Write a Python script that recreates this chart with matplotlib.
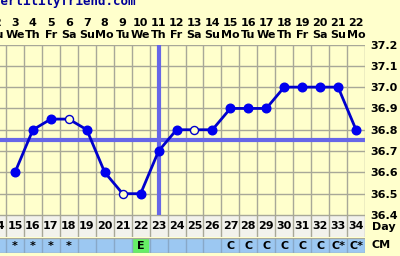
import matplotlib
matplotlib.use("Agg")
import matplotlib.pyplot as plt
import matplotlib.transforms as mtransforms

# ---- data ----
cycle_days = [14, 15, 16, 17, 18, 19, 20, 21, 22, 23, 24, 25, 26, 27, 28, 29, 30, 31, 32, 33, 34]
dates = [2, 3, 4, 5, 6, 7, 8, 9, 10, 11, 12, 13, 14, 15, 16, 17, 18, 19, 20, 21, 22]
weekdays = ["Tu", "We", "Th", "Fr", "Sa", "Su", "Mo", "Tu", "We", "Th", "Fr", "Sa", "Su",
            "Mo", "Tu", "We", "Th", "Fr", "Sa", "Su", "Mo"]
temp_days = [15, 16, 17, 18, 19, 20, 21, 22, 23, 24, 25, 26, 27, 28, 29, 30, 31, 32, 33, 34]
temps = [36.6, 36.8, 36.85, 36.85, 36.8, 36.6, 36.5, 36.5, 36.7, 36.8, 36.8, 36.8,
         36.9, 36.9, 36.9, 37.0, 37.0, 37.0, 37.0, 36.8]
open_days = [18, 21, 25]
cm_labels = ["", "*", "*", "*", "*", "", "", "", "E", "", "", "", "", "C", "C", "C", "C",
             "C", "C", "C*", "C*"]
coverline = 36.75
ovulation_day = 23
y_ticks = [36.4, 36.5, 36.6, 36.7, 36.8, 36.9, 37.0, 37.1, 37.2]

# ---- style ----
BG = "#FFFFCC"
GRID = "#A8A898"
LINE = "#0000CC"
DOT = "#0000EE"
COVER = "#6666E8"
FONT = dict(family="DejaVu Sans", weight="bold", size=8)

W, H = 400, 256
fig = plt.figure(figsize=(W / 100, H / 100), dpi=100, facecolor=BG)

def frac(x0, y0, x1, y1):
    return [x0 / W, 1 - y1 / H, (x1 - x0) / W, (y1 - y0) / H]

x_left = 14.5 - 6 / 17.95
x_right = 34.5

# main plot
ax = fig.add_axes(frac(0, 44.5, 365, 215))
ax.set_facecolor(BG)
ax.set_xlim(x_left, x_right)
ax.set_ylim(36.4, 37.2)
for d in cycle_days:
    ax.axvline(d + 0.5, color=GRID, lw=1, zorder=1)
for t in y_ticks:
    ax.axhline(t, color=GRID, lw=1, zorder=1)
for s in ax.spines.values():
    s.set_visible(False)
ax.set_xticks([])
ax.yaxis.tick_right()
ax.set_yticks(y_ticks)
ax.set_yticklabels([f"{t:.1f}" for t in y_ticks], **FONT)
ax.tick_params(axis="y", length=0, pad=4)

ax.axhline(coverline, color=COVER, lw=3, zorder=2)
ax.axvline(ovulation_day, color=COVER, lw=3, zorder=2)

ax.plot(temp_days, temps, color=LINE, lw=2, zorder=3)
filled_x = [d for d in temp_days if d not in open_days]
filled_y = [t for d, t in zip(temp_days, temps) if d not in open_days]
open_x = [d for d in temp_days if d in open_days]
open_y = [t for d, t in zip(temp_days, temps) if d in open_days]
ax.plot(filled_x, filled_y, "o", ms=6.2, color=DOT, mec=DOT, zorder=4)
ax.plot(open_x, open_y, "o", ms=5.8, mfc=BG, mec=LINE, mew=1, zorder=4)

# header labels
trans = mtransforms.blended_transform_factory(ax.transData, ax.transAxes)
for d, dt, wd in zip(cycle_days, dates, weekdays):
    ax.text(d, 1 + 21.8 / 170.5, str(dt), transform=trans, ha="center", va="center",
            clip_on=False, **FONT)
    ax.text(d, 1 + 9.5 / 170.5, wd, transform=trans, ha="center", va="center",
            clip_on=False, **FONT)
fig.text(-7 / W, 1 - 5 / H, "fertilityfriend.com", color="#000099", ha="left", va="baseline",
         family="DejaVu Sans Mono", weight="bold", size=9)

# day row
axd = fig.add_axes(frac(0, 215, 365, 237))
axd.set_facecolor("#F2F2EC")
axd.set_xlim(x_left, x_right)
axd.set_ylim(0, 1)
for d in cycle_days:
    axd.axvline(d + 0.5, color=GRID, lw=1)
for s in axd.spines.values():
    s.set_visible(False)
axd.axhline(1, color=GRID, lw=1)
axd.set_xticks([]); axd.set_yticks([])
for d in cycle_days:
    axd.text(d, 0.5, str(d), ha="center", va="center", clip_on=True, **FONT)
fig.text(372 / W, 1 - 227 / H, "Day", ha="left", va="center", **FONT)

# CM row
axc = fig.add_axes(frac(0, 237.5, 365, 253))
axc.set_facecolor("#9CC8F2")
axc.set_xlim(x_left, x_right)
axc.set_ylim(0, 1)
for d in cycle_days:
    axc.axvline(d + 0.5, color="#88A8C8", lw=1)
for s in axc.spines.values():
    s.set_visible(False)
axc.axhline(1, color=GRID, lw=1)
axc.axhline(0, color=GRID, lw=1)
axc.set_xticks([]); axc.set_yticks([])
for d, c in zip(cycle_days, cm_labels):
    if c == "E":
        axc.axvspan(d - 0.42, d + 0.42, ymin=0.08, ymax=0.92, color="#66EE66", zorder=0.5)
    if c:
        axc.text(d, 0.45, c, ha="center", va="center", **FONT)
fig.text(372 / W, 1 - 245.5 / H, "CM", ha="left", va="center", **FONT)

fig.savefig("out.png", dpi=100, facecolor=BG)
